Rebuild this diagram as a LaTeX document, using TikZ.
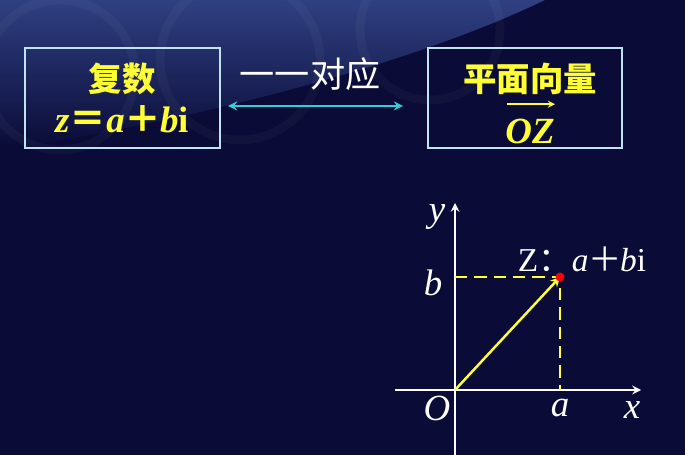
\documentclass[tikz,border=0pt]{standalone}
\usepackage{fontspec}
\setmainfont{Liberation Serif}
\newfontfamily\cjk{Noto Sans CJK SC}
\usepackage{tikz}
\usetikzlibrary{arrows,positioning}
\definecolor{bgnavy}{HTML}{0A0B36}
\definecolor{bglight}{HTML}{34468A}
\definecolor{boxline}{HTML}{BFE3F2}
\definecolor{ylw}{HTML}{FFFF33}
\definecolor{cyanarrow}{HTML}{2FCFD6}
\tikzset{
  framebox/.style={draw=boxline,line width=1.4pt},
  cntext/.style={text=ylw,font=\cjk\bfseries\fontsize{19}{22}\selectfont},
  mathtext/.style={text=ylw,font=\bfseries\fontsize{21}{24}\selectfont},
  axislabel/.style={text=white,font=\fontsize{21}{24}\selectfont\itshape},
}

\begin{document}
\begin{tikzpicture}[x=0.02cm,y=0.02cm]
% background
\useasboundingbox (0,0) rectangle (685,455);
\clip (0,0) rectangle (685,455);
\fill[bgnavy] (0,0) rectangle (685,455);
\shade[top color=bglight,bottom color=bgnavy,opacity=0.9] (0,455) -- (545,455) .. controls (400,385) and (170,330) .. (0,305) -- cycle;
\foreach \cx/\cy/\r in {60/380/75,240/395/80,430/425/70}
  \draw[white,opacity=0.035,line width=5pt] (\cx,\cy) circle (\r);
% two boxes
\draw[framebox] (25,307) rectangle (220,407);
\draw[framebox] (428,307) rectangle (622,407);
\node[cntext] (fushu) at (122,376) {复数};
\node[mathtext] (zeq) at (122,336) {\textit{z}{\cjk＝}\textit{a}{\cjk＋}\kern-1pt\textit{b}i};
\node[cntext] (xiangliang) at (530,376) {平面向量};
\node[mathtext,inner sep=1pt] (oz) at (530,324) {\textit{OZ}};
\coordinate (ozl) at ([xshift=2pt,yshift=7pt]oz.north west);
\coordinate (ozr) at ([xshift=-1pt,yshift=7pt]oz.north east);
\draw[ylw,line width=0.8pt,-stealth] (ozl) -- (ozr);
\node[text=white,font=\cjk\fontsize{20}{22}\selectfont] (duiying) at (310,381) {一一对应};
\coordinate (la) at (228,349);
\coordinate (ra) at (403,349);
\draw[cyanarrow,line width=1.3pt,stealth-stealth] (la) -- (ra);
% coordinate plane
\coordinate (O) at (455,65);
\coordinate (ytop) at (455,252);
\coordinate (ybot) at (455,0);
\coordinate (xl) at (395,65);
\coordinate (xr) at (641,65);
\coordinate (Z) at (560,178);
\coordinate (Zy) at (455,178);
\coordinate (Zx) at (560,65);
\draw[white,line width=1.2pt,-stealth] (ybot) -- (ytop);
\draw[white,line width=1.2pt,-stealth] (xl) -- (xr);
\draw[ylw,line width=1.3pt,dashed,dash pattern=on 7pt off 4pt] (Zy) -- (Z) -- (Zx);
\draw[ylw,line width=1.4pt,-stealth] (O) -- (Z);
\fill[red] (Z) circle (4.5);
\node[axislabel] (ylab) at (437,238) {y};
\node[axislabel] (blab) at (433,172) {b};
\node[axislabel] (olab) at (437,47) {O};
\node[axislabel] (alab) at (560,47) {a};
\node[axislabel] (xlab) at (632,45) {x};
\node[text=white,font=\fontsize{19}{22}\selectfont] (zlab) at (582,196) {Z{\cjk：}\textit{a}{\cjk＋}\kern-1pt\textit{b}i};
\end{tikzpicture}
\end{document}
